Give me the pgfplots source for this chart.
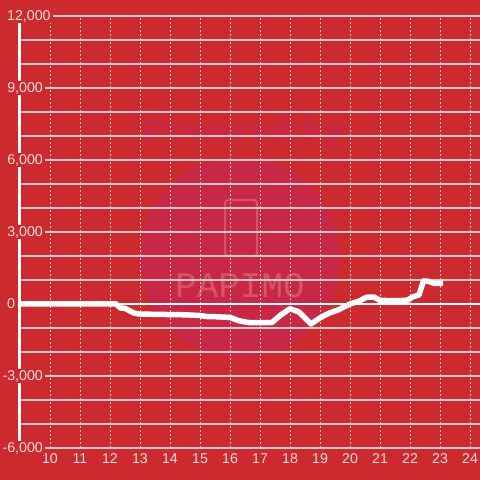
\documentclass[border=0pt]{standalone}
\usepackage{pgfplots}
\pgfplotsset{compat=1.18}
\usepackage{fontspec}
\setmainfont{Liberation Sans}
\newfontfamily\monof{Liberation Mono}
\definecolor{bgred}{RGB}{204,42,46}
\definecolor{wmcircle}{RGB}{200,40,70}
\definecolor{wmtext}{RGB}{200,38,70}
\definecolor{wmlight}{RGB}{214,84,104}
\definecolor{gridc}{RGB}{212,204,204}
\definecolor{tickc}{RGB}{246,220,220}
\begin{document}
\begin{tikzpicture}
\path[use as bounding box] (-20bp,-32bp) rectangle (460bp,448bp);
\fill[bgred] (-20bp,-32bp) rectangle (460bp,448bp);
% watermark
\fill[wmcircle] (220bp,190bp) circle (100bp);
\node[text=wmtext, font=\bfseries\fontsize{30bp}{34bp}\selectfont, xscale=1.2] at (223bp,315bp) {Powered by};
\draw[wmlight, line width=2bp, rounded corners=3bp] (205bp,192bp) rectangle (237bp,248bp);
\node[text=wmlight, font=\monof\fontsize{36bp}{40bp}\selectfont] at (220bp,162bp) {PAPIMO};
% y axis line (drawn beneath the tick labels)
\draw[white, line width=3bp] (-0.5bp,0bp) -- (-0.5bp,432bp);
\begin{axis}[
  at={(0,0)}, anchor=south west,
  scale only axis, width=460bp, height=432bp,
  xmin=9, xmax=24.3333, ymin=-6000, ymax=12000,
  xtick={10,11,...,24},
  ytick={-6000,-3000,3000,6000,9000},
  minor ytick={-5000,-4000,-2000,-1000,1000,2000,4000,5000,7000,8000,10000,11000},
  extra y ticks={0,12000},
  extra y tick style={
    ymajorgrids=true,
    major y grid style={gridc, line width=1.3bp},
    yticklabel style={anchor=west, xshift=-40bp},
  },
  scaled y ticks=false,
  xmajorgrids, ymajorgrids, yminorgrids,
  major x grid style={gridc, line width=1bp, dash pattern=on 2bp off 2bp},
  major y grid style={gridc, line width=1.3bp},
  minor y grid style={gridc, line width=1.3bp},
  major tick length=0pt, minor tick length=0pt,
  axis line style={draw=none},
  tick label style={font=\fontsize{14.2bp}{17bp}\selectfont, text=tickc},
  yticklabel style={anchor=east, xshift=25bp, fill=bgred, inner xsep=2bp, inner ysep=1.5bp},
  xticklabel style={yshift=-2bp},
  /pgf/number format/.cd, 1000 sep={,}, assume math mode=true,
]
\addplot[white, line width=2.7bp, forget plot] coordinates {(9,0) (24.3333,0)};
\addplot[white, line width=5.5bp, line join=round] coordinates {
(9.0,0) (12.2,0) (12.35,-170) (12.5,-180) (12.8,-380) (13.0,-420) (13.5,-430)
(14.0,-440) (14.5,-450) (15.0,-480) (15.2,-520) (15.5,-530) (16.0,-560)
(16.3,-700) (16.6,-770) (17.0,-780) (17.4,-770) (17.7,-450) (18.0,-200)
(18.3,-330) (18.7,-830) (19.0,-580) (19.3,-380) (19.6,-250) (20.0,0)
(20.3,120) (20.55,280) (20.8,290) (21.0,150) (21.5,140) (21.9,150)
(22.1,300) (22.3,380) (22.45,960) (22.6,950) (22.8,860) (23.1,860)
};
\end{axis}
\end{tikzpicture}
\end{document}
